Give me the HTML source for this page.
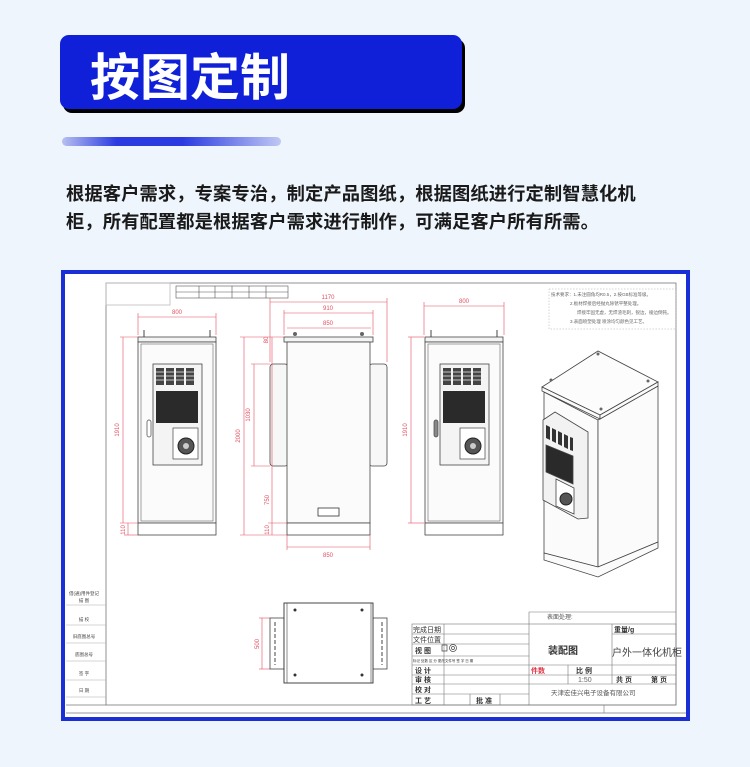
<!DOCTYPE html>
<html><head><meta charset="utf-8"><style>
html,body{margin:0;padding:0;background:#eef5fd;}
body{width:750px;height:767px;position:relative;overflow:hidden;font-family:"Liberation Sans","Noto Sans CJK SC",sans-serif;}
.p{position:absolute;left:66px;font-size:18.3px;font-weight:bold;color:#1a1a1a;letter-spacing:0.1px;white-space:nowrap;}
</style></head><body>
<div style="position:absolute;left:63px;top:39px;width:402px;height:74px;background:#000;border-radius:9px;"></div>
<div style="position:absolute;left:60px;top:35px;width:402px;height:74px;background:#1020d8;border-radius:9px;"></div>
<div style="position:absolute;left:90px;top:41px;font-size:50px;font-weight:bold;color:#fff;font-family:'Noto Sans CJK SC',sans-serif;line-height:66px;">按图定制</div>
<div style="position:absolute;left:62px;top:137px;width:219px;height:9px;border-radius:5px;background:linear-gradient(90deg,#b8c0f0,#2a3ae0 25%,#2a3ae0 55%,#c0c8f4);"></div>
<div class="p" style="top:180px;">根据客户需求，专案专治，制定产品图纸，根据图纸进行定制智慧化机</div>
<div class="p" style="top:208px;">柜，所有配置都是根据客户需求进行制作，可满足客户所有所需。</div>

<svg width="750" height="767" style="position:absolute;left:0;top:0" font-family="Liberation Sans, Noto Sans CJK SC, sans-serif">
<rect x="63" y="272" width="625" height="447" fill="#fff" stroke="#1a2fd6" stroke-width="4"/>
<g fill="none" stroke="#777" stroke-width="0.8">
<rect x="106" y="283" width="570" height="422"/>
<line x1="66" y1="713" x2="686" y2="713"/>
<line x1="66" y1="705" x2="106" y2="705"/>
<rect x="106" y="283" width="64" height="22" stroke="#bbb"/>
</g>
<g stroke="#555" stroke-width="0.6" fill="none">
<rect x="176" y="286" width="112" height="12"/>
<line x1="176" y1="292" x2="288" y2="292"/>
<line x1="199" y1="286" x2="199" y2="298"/><line x1="215" y1="286" x2="215" y2="298"/><line x1="232" y1="286" x2="232" y2="298"/><line x1="249" y1="286" x2="249" y2="298"/><line x1="266" y1="286" x2="266" y2="298"/>
</g>
<g font-size="4.5" fill="#444" text-anchor="middle">
<text x="84" y="595">借(通)用件登记</text><text x="84" y="602">描 图</text><text x="84" y="621">描 校</text><text x="84" y="638">旧底图总号</text><text x="84" y="656">底图总号</text><text x="84" y="675">签 字</text><text x="84" y="692">日 期</text>
</g>
<g stroke="#aaa" stroke-width="0.5"><line x1="66" y1="605" x2="106" y2="605"/><line x1="66" y1="625" x2="106" y2="625"/><line x1="66" y1="643" x2="106" y2="643"/><line x1="66" y1="661" x2="106" y2="661"/><line x1="66" y1="680" x2="106" y2="680"/><line x1="66" y1="697" x2="106" y2="697"/></g>

<defs>
<g id="cab">
<rect x="138" y="337" width="78" height="5" fill="#f4f4f4" stroke="#444" stroke-width="0.8"/>
<rect x="138" y="342" width="78" height="181" fill="#fbfbfb" stroke="#444" stroke-width="0.8"/>
<rect x="141" y="344" width="72" height="177" fill="none" stroke="#666" stroke-width="0.6"/>
<rect x="138" y="523" width="78" height="12" fill="#fff" stroke="#444" stroke-width="0.8"/>
<rect x="153" y="364" width="49" height="101" fill="#f4f4f4" stroke="#444" stroke-width="0.8"/>
<g fill="#444"><rect x="156" y="368" width="8" height="17"/><rect x="166" y="368" width="8" height="17"/><rect x="176" y="368" width="8" height="17"/><rect x="186" y="368" width="8" height="17"/></g>
<g stroke="#eee" stroke-width="0.8"><line x1="156" y1="372" x2="194" y2="372"/><line x1="156" y1="376" x2="194" y2="376"/><line x1="156" y1="380" x2="194" y2="380"/></g>
<rect x="156" y="391" width="42" height="32" fill="#2a2a2a"/>
<rect x="173" y="428" width="25" height="31" fill="#fff" stroke="#444" stroke-width="0.7"/>
<circle cx="186" cy="446" r="8" fill="#555" stroke="#222"/><circle cx="186" cy="446" r="3" fill="#ccc"/>
<line x1="144" y1="337" x2="144" y2="330" stroke="#444"/><line x1="210" y1="337" x2="210" y2="330" stroke="#444"/>
</g>
</defs>
<use href="#cab"/>
<rect x="147" y="420" width="4" height="17" rx="2" fill="#fff" stroke="#444" stroke-width="0.7"/>
<use href="#cab" x="287"/>
<rect x="434" y="420" width="4" height="17" rx="2" fill="#888" stroke="#444" stroke-width="0.7"/>

<rect x="270" y="364" width="18" height="102" rx="3" fill="#f7f7f7" stroke="#444" stroke-width="0.8"/>
<rect x="369" y="364" width="18" height="102" rx="3" fill="#f7f7f7" stroke="#444" stroke-width="0.8"/>
<rect x="284" y="337" width="89" height="5" fill="#f4f4f4" stroke="#444" stroke-width="0.8"/>
<rect x="287" y="342" width="83" height="181" fill="#fbfbfb" stroke="#444" stroke-width="0.8"/>
<rect x="287" y="523" width="83" height="12" fill="#fff" stroke="#444" stroke-width="0.8"/>
<rect x="318" y="508" width="21" height="8" fill="#fff" stroke="#333" stroke-width="0.8"/>
<circle cx="295" cy="334" r="2" fill="#666"/><circle cx="362" cy="334" r="2" fill="#666"/>

<g stroke="#e05060" stroke-width="0.6" fill="none">
<line x1="138" y1="317" x2="216" y2="317"/><line x1="138" y1="313" x2="138" y2="335"/><line x1="216" y1="313" x2="216" y2="335"/>
<line x1="123" y1="337" x2="123" y2="523"/><line x1="120" y1="337" x2="138" y2="337"/><line x1="120" y1="523" x2="138" y2="523"/><line x1="128" y1="523" x2="128" y2="535"/><line x1="124" y1="535" x2="138" y2="535"/>
<line x1="424" y1="306" x2="504" y2="306"/><line x1="424" y1="302" x2="424" y2="335"/><line x1="504" y1="302" x2="504" y2="335"/>
<line x1="411" y1="337" x2="411" y2="523"/><line x1="408" y1="337" x2="424" y2="337"/><line x1="408" y1="523" x2="424" y2="523"/>
<line x1="270" y1="302" x2="387" y2="302"/><line x1="270" y1="298" x2="270" y2="362"/><line x1="387" y1="298" x2="387" y2="362"/>
<line x1="284" y1="313" x2="373" y2="313"/><line x1="284" y1="310" x2="284" y2="335"/><line x1="373" y1="310" x2="373" y2="335"/>
<line x1="287" y1="328" x2="371" y2="328"/>
<line x1="287" y1="547" x2="370" y2="547"/><line x1="287" y1="535" x2="287" y2="550"/><line x1="370" y1="535" x2="370" y2="550"/>
<line x1="244" y1="337" x2="244" y2="535"/><line x1="240" y1="337" x2="284" y2="337"/><line x1="240" y1="535" x2="287" y2="535"/>
<line x1="254" y1="364" x2="254" y2="466"/><line x1="251" y1="364" x2="270" y2="364"/><line x1="251" y1="466" x2="270" y2="466"/>
<line x1="272" y1="337" x2="272" y2="535"/><line x1="268" y1="523" x2="287" y2="523"/>
<line x1="262" y1="618" x2="262" y2="669"/><line x1="259" y1="618" x2="270" y2="618"/><line x1="259" y1="669" x2="270" y2="669"/>
</g>
<g fill="#e05060" font-size="6" text-anchor="middle">
<text x="177" y="314">800</text><text x="464" y="303">800</text><text x="328" y="299">1170</text><text x="328" y="310">910</text><text x="328" y="325">850</text><text x="328" y="557">850</text>
<text transform="translate(119,430) rotate(-90)">1910</text><text transform="translate(407,430) rotate(-90)">1910</text>
<text transform="translate(240,436) rotate(-90)">2000</text><text transform="translate(250,415) rotate(-90)">1030</text>
<text transform="translate(269,500) rotate(-90)">750</text><text transform="translate(269,530) rotate(-90)">110</text><text transform="translate(125,530) rotate(-90)">110</text>
<text transform="translate(268,340) rotate(-90)">80</text><text transform="translate(259,644) rotate(-90)">500</text>
</g>

<g fill="#666" font-size="4.5">
<text x="551" y="296">技术要求：1.未注圆角均R0.5，2.按GB标准等级。</text>
<text x="570" y="305">2.板材焊接后经抛丸除锈平整处理。</text>
<text x="577" y="314">焊接牢固无虚，无焊渣毛刺，锐边，棱边倒钝。</text>
<text x="570" y="323">3.表面喷塑处理 喷涂均匀颜色见工艺。</text>
</g>
<rect x="549" y="289" width="127" height="40" fill="none" stroke="#aaa" stroke-width="0.5" stroke-dasharray="1.5,1.5"/>

<g stroke="#444" stroke-width="0.8" fill="#fbfbfb">
<polygon points="544,392 598,420 598,567 544,553"/>
<polygon points="598,420 658,386 658,542 598,567"/>
<polygon points="544,553 598,567 658,542 658,548 598,577 544,560"/>
<polygon points="542,387 598,351 658,382 600,415" fill="#fcfcfc"/>
<polygon points="542,387 600,415 600,419 542,391"/><polygon points="600,415 658,382 658,386 600,419"/>
<polygon points="543,420 555,412 588,432 588,518 578,519 543,500" fill="#f2f2f2"/>
<polygon points="546,445 573,456 573,484 546,472" fill="#2a2a2a"/>
<polygon points="556,479 574,488 574,514 556,506" fill="#fff"/>
</g>
<g fill="#333"><polygon points="546,425 550,427 550,440 546,438"/><polygon points="552,428 556,430 556,443 552,441"/><polygon points="558,431 562,433 562,446 558,444"/><polygon points="564,434 568,436 568,449 564,447"/><polygon points="570,437 573,438 573,451 570,450"/></g>
<circle cx="566" cy="499" r="6" fill="#555" stroke="#222"/>
<g fill="#666"><circle cx="598" cy="354" r="1.5"/><circle cx="551" cy="380" r="1.5"/><circle cx="648" cy="381" r="1.5"/><circle cx="601" cy="409" r="1.5"/></g>

<rect x="270" y="618" width="14" height="51" fill="#fff" stroke="#444" stroke-width="0.8"/>
<rect x="373" y="618" width="14" height="51" fill="#fff" stroke="#444" stroke-width="0.8"/>
<g stroke="#444" stroke-width="1" stroke-dasharray="4,2"><line x1="275" y1="622" x2="275" y2="665"/><line x1="382" y1="622" x2="382" y2="665"/></g>
<rect x="284" y="603" width="89" height="80" fill="#fff" stroke="#333" stroke-width="0.9"/>
<line x1="287" y1="603" x2="287" y2="683" stroke="#444" stroke-width="0.6"/><line x1="371" y1="603" x2="371" y2="683" stroke="#444" stroke-width="0.6"/>
<g fill="#333"><circle cx="295" cy="610" r="1.5"/><circle cx="362" cy="610" r="1.5"/><circle cx="295" cy="675" r="1.5"/><circle cx="362" cy="675" r="1.5"/></g>

<g stroke="#777" stroke-width="0.6" fill="none">
<polyline points="529,624 529,612 676,612"/>
<rect x="412" y="624" width="264" height="81"/>
<line x1="412" y1="634" x2="529" y2="634"/><line x1="412" y1="644" x2="529" y2="644"/><line x1="412" y1="656" x2="529" y2="656"/><line x1="412" y1="665" x2="676" y2="665"/><line x1="412" y1="675" x2="612" y2="675"/><line x1="412" y1="684" x2="676" y2="684"/><line x1="412" y1="694" x2="529" y2="694"/>
<line x1="612" y1="634" x2="676" y2="634"/><line x1="612" y1="675" x2="676" y2="675"/>
<line x1="444" y1="624" x2="444" y2="705"/><line x1="529" y1="624" x2="529" y2="705"/><line x1="612" y1="624" x2="612" y2="684"/><line x1="568" y1="665" x2="568" y2="684"/>
<line x1="470" y1="694" x2="470" y2="705"/><line x1="500" y1="694" x2="500" y2="705"/>
<line x1="604" y1="705" x2="604" y2="713"/>
</g>
<g fill="#333" font-size="7">
<text x="547" y="619" font-size="6" fill="#555">表面处理:</text>
<text x="413" y="632">完成日期</text><text x="413" y="642">文件位置</text>
<text x="415" y="653" font-weight="bold">视 图</text>
<text x="415" y="673" font-weight="bold">设 计</text><text x="415" y="682" font-weight="bold">审 核</text><text x="415" y="692" font-weight="bold">校 对</text><text x="415" y="703" font-weight="bold">工 艺</text>
<text x="476" y="703" font-weight="bold">批 准</text>
<text x="614" y="632" font-weight="bold">重量/g</text>
<text x="548" y="654" font-size="10" font-weight="bold">装配图</text>
<text x="612" y="656" font-size="10" fill="#444">户外一体化机柜</text>
<text x="531" y="673" fill="#e03040" font-weight="bold">件数</text>
<text x="576" y="673" font-weight="bold">比 例</text><text x="578" y="682" fill="#666">1:50</text>
<text x="616" y="682" font-weight="bold">共 页</text><text x="651" y="682" font-weight="bold">第 页</text>
<text x="551" y="695" font-size="6.5" fill="#555">天津宏佳兴电子设备有限公司</text>
<text x="413" y="662" font-size="3.5">标记 处数  区 分  更改文件号  签 字  日 期</text>
</g>
<g stroke="#444" stroke-width="0.7" fill="none"><path d="M442,645 h5 v6 h-5 z"/><circle cx="453" cy="648" r="3.5"/><circle cx="453" cy="648" r="1.5"/></g>
</svg>
</body></html>
